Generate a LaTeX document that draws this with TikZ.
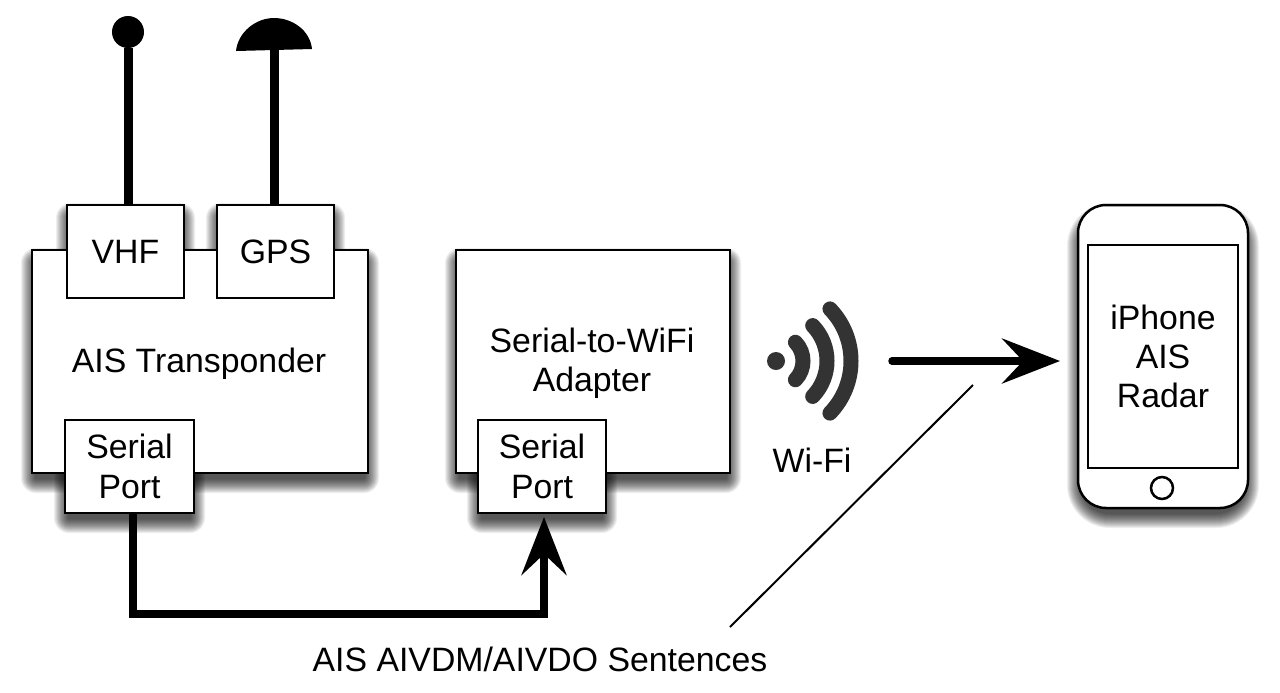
\documentclass[tikz,border=0pt]{standalone}
\usepackage{fontspec}
\setmainfont{Liberation Sans}
\usetikzlibrary{arrows.meta}

\tikzset{
    unit/.style={draw, fill=white, line width=1.25pt, inner sep=0pt, outer sep=0pt, align=center},
    caption/.style={font=\fontsize{16.9}{19.6}\selectfont, inner sep=0pt, align=center},
    mast/.style={line width=4.5pt},
    wire/.style={line width=3.75pt, line join=miter},
    wirehead/.style={-{Stealth[length=29pt, width=22.5pt, inset=10.5pt]}},
    wifiarc/.style={line width=7.5pt, line cap=round, color=black!80},
    leader/.style={line width=1pt}
}

\begin{document}
\begin{tikzpicture}[x=0.5pt, y=-0.5pt]

    \newcommand{\boxshade}[5]{
        \foreach \spread in {-3,...,11}{
            \pgfmathsetmacro{\bend}{#5+0.5*(\spread+4)}
            \fill[black, opacity=0.065, rounded corners=\bend pt] ({#1-\spread},{#2+9-\spread}) rectangle ({#3+\spread},{#4+9+\spread});
        }
    }

    \path[fill=white, use as bounding box] (0,0) rectangle (1280,692);

    % Shadows sit under every box
    \boxshade{32}{250}{368}{473}{0}
    \boxshade{67}{205}{184}{298}{0}
    \boxshade{217}{205}{334}{298}{0}
    \boxshade{65}{420}{194}{513}{0}
    \boxshade{456}{250}{730}{473}{0}
    \boxshade{478}{420}{606}{513}{0}
    \boxshade{1078}{205}{1248}{508}{14}

    % AIS transponder
    \node[unit, minimum width=168pt, minimum height=111.5pt] (transponder) at (200,361.5) {};
    \node[unit, minimum width=58.5pt, minimum height=46.5pt] (vhf) at (125.5,251.5) {};
    \node[unit, minimum width=58.5pt, minimum height=46.5pt] (gps) at (275.5,251.5) {};
    \node[caption] at (vhf.center) {VHF};
    \node[caption] at (gps.center) {GPS};
    \node[caption] (transponderlabel) at (199,364) {AIS Transponder};
    \node[unit, caption, line width=1.25pt, draw, fill=white, minimum width=64.5pt, minimum height=46.5pt] (portA) at (129.5,466.5) {Serial\\Port};

    % Adapter
    \node[unit, minimum width=137pt, minimum height=111.5pt] (adapter) at (593,361.5) {};
    \node[caption] (adapterlabel) at (592,363.5) {Serial-to-WiFi\\Adapter};
    \node[unit, caption, line width=1.25pt, draw, fill=white, minimum width=64pt, minimum height=46.5pt] (portB) at (542,466.5) {Serial\\Port};

    % Antennas
    \node[circle, fill=black, inner sep=0pt, minimum size=16pt] (vhfball) at (128,32) {};
    \coordinate (gpsdome) at (274,50);
    \fill (236,51) .. controls (238,32) and (256,18) .. (274,18) .. controls (292,18) and (310,30) .. (312,49) -- cycle;
    \draw[mast] ([xshift=1.25pt]vhf.north) -- (vhfball);
    \draw[mast] ([xshift=-0.75pt]gps.north) -- (gpsdome);

    % Serial link
    \coordinate (busleft) at (133,614);
    \coordinate (busright) at (544,614);
    \coordinate (busnotch) at (544,555);
    \draw[wire] ([xshift=1.75pt]portA.south) -- (busleft) -- (busright) -- (busnotch);
    \draw[wire, wirehead, shorten >=2pt] (busright) -- ([xshift=1pt]portB.south);
    \coordinate (leaderfoot) at (730,627);
    \coordinate (leadertop) at (973,385);
    \draw[leader] (leaderfoot) -- (leadertop);
    \node[caption] (sentences) at (540,659) {AIS AIVDM/AIVDO Sentences};

    % Wi-Fi symbol
    \node[circle, fill=black!80, inner sep=0pt, minimum size=9pt] (wifidot) at (776,361) {};
    \foreach \r in {27,51,75}
        \draw[wifiarc] (776,361) ++(-44:\r) arc[start angle=-44, end angle=44, radius=\r];
    \node[caption] (wifilabel) at (812,460) {Wi-Fi};

    \coordinate (wifistart) at (892,361);
    \coordinate (wifinotch) at (1024,361);
    \coordinate (wifiend) at (1060,361);
    \draw[wire, line cap=round] (wifistart) -- (wifinotch);
    \draw[wire, wirehead] (wifistart) -- (wifiend);

    % Phone
    \node[unit, rounded corners=14pt, minimum width=85pt, minimum height=151.5pt] (phone) at (1163,356.5) {};
    \node[unit, caption, line width=1.25pt, draw, fill=white, minimum width=75pt, minimum height=111.5pt] (screen) at (1163,356.5) {iPhone\\AIS\\Radar};
    \node[circle, draw, line width=1.25pt, inner sep=0pt, minimum size=11pt] (homebutton) at (1162,488) {};

\end{tikzpicture}
\end{document}
